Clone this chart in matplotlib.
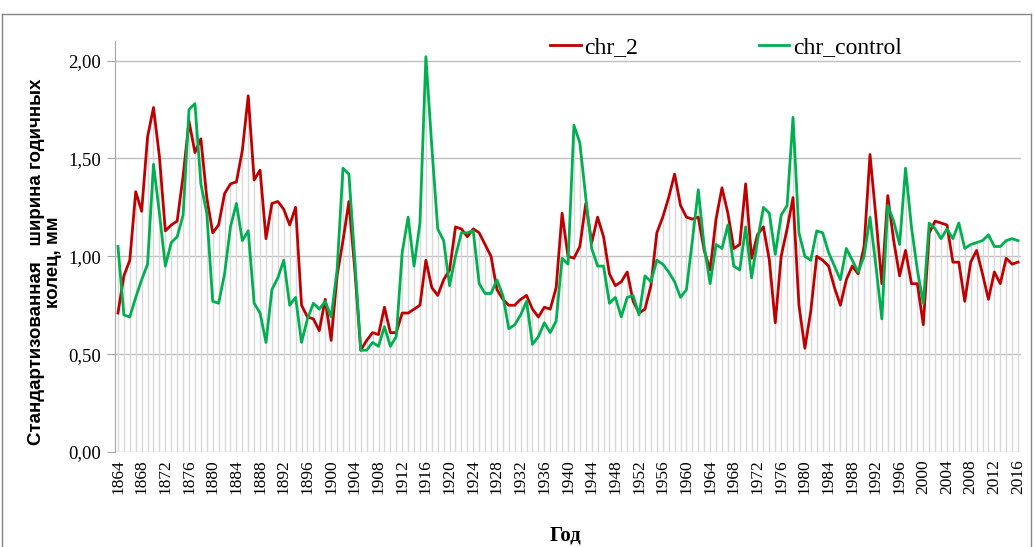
import matplotlib
matplotlib.use('Agg')
import matplotlib.pyplot as plt
import numpy as np
from matplotlib.lines import Line2D
from matplotlib.ticker import FuncFormatter

years = np.arange(1864, 2017)

chr_2 = [0.71, 0.90, 0.98, 1.33, 1.23, 1.61, 1.76, 1.51, 1.13, 1.16,
         1.18, 1.41, 1.69, 1.53, 1.60, 1.30, 1.12, 1.16, 1.32, 1.37,
         1.38, 1.54, 1.82, 1.39, 1.44, 1.09, 1.27, 1.28, 1.24, 1.16,
         1.25, 0.75, 0.69, 0.68, 0.62, 0.78, 0.57, 0.90, 1.08, 1.28,
         0.93, 0.52, 0.57, 0.61, 0.60, 0.74, 0.61, 0.61, 0.71, 0.71,
         0.73, 0.75, 0.98, 0.84, 0.80, 0.88, 0.93, 1.15, 1.14, 1.10,
         1.14, 1.12, 1.06, 1.00, 0.83, 0.78, 0.75, 0.75, 0.78, 0.80,
         0.73, 0.69, 0.74, 0.73, 0.84, 1.22, 1.00, 0.99, 1.05, 1.27,
         1.07, 1.20, 1.10, 0.91, 0.85, 0.87, 0.92, 0.77, 0.71, 0.73,
         0.85, 1.12, 1.20, 1.30, 1.42, 1.26, 1.20, 1.19, 1.20, 1.03,
         0.93, 1.19, 1.35, 1.22, 1.04, 1.06, 1.37, 0.99, 1.11, 1.15,
         0.98, 0.66, 1.00, 1.14, 1.30, 0.75, 0.53, 0.72, 1.00, 0.98,
         0.95, 0.84, 0.75, 0.88, 0.95, 0.91, 1.05, 1.52, 1.20, 0.86,
         1.31, 1.08, 0.90, 1.03, 0.86, 0.86, 0.65, 1.12, 1.18, 1.17,
         1.16, 0.97, 0.97, 0.77, 0.97, 1.03, 0.91, 0.78, 0.92, 0.86,
         0.99, 0.96, 0.97]

chr_control = [1.05, 0.70, 0.69, 0.79, 0.88, 0.96, 1.47, 1.22, 0.95, 1.07,
               1.10, 1.21, 1.75, 1.78, 1.37, 1.22, 0.77, 0.76, 0.91, 1.15,
               1.27, 1.08, 1.13, 0.76, 0.71, 0.56, 0.83, 0.89, 0.98, 0.75,
               0.79, 0.56, 0.68, 0.76, 0.73, 0.77, 0.69, 0.93, 1.45, 1.42,
               0.98, 0.52, 0.52, 0.56, 0.54, 0.64, 0.54, 0.59, 1.02, 1.20,
               0.95, 1.17, 2.02, 1.56, 1.14, 1.08, 0.85, 1.00, 1.12, 1.12,
               1.13, 0.86, 0.81, 0.81, 0.88, 0.80, 0.63, 0.65, 0.70, 0.77,
               0.55, 0.59, 0.66, 0.61, 0.67, 0.99, 0.96, 1.67, 1.58, 1.30,
               1.04, 0.95, 0.95, 0.76, 0.79, 0.69, 0.79, 0.80, 0.70, 0.90,
               0.87, 0.98, 0.96, 0.92, 0.87, 0.79, 0.83, 1.08, 1.34, 1.05,
               0.86, 1.06, 1.04, 1.16, 0.95, 0.93, 1.15, 0.89, 1.08, 1.25,
               1.22, 1.01, 1.21, 1.26, 1.71, 1.12, 1.00, 0.98, 1.13, 1.12,
               1.02, 0.95, 0.88, 1.04, 0.98, 0.92, 1.00, 1.20, 0.95, 0.68,
               1.26, 1.18, 1.06, 1.45, 1.15, 0.93, 0.76, 1.17, 1.14, 1.09,
               1.14, 1.09, 1.17, 1.04, 1.06, 1.07, 1.08, 1.11, 1.05, 1.05,
               1.08, 1.09, 1.08]

y_ticks = [0.0, 0.5, 1.0, 1.5, 2.0]
x_ticks = years[::4]

serif = 'Liberation Serif'
sans = 'Liberation Sans'

fig = plt.figure(figsize=(10.35, 5.47), dpi=100)
ax = fig.add_axes([115 / 1035, 1 - 452 / 547, 906 / 1035, 411 / 547])

# drop lines from the highest point to the axis
top = np.maximum(chr_2, chr_control)
ax.vlines(years, 0, top, color='#d9d9d9', lw=1, zorder=1)

for v in y_ticks:
    ax.axhline(v, color='#bfbfbf', lw=1, zorder=0)

ax.plot(years, chr_2, color='#c00000', lw=2.0, label='chr_2', zorder=3)
ax.plot(years, chr_control, color='#00b050', lw=2.0, label='chr_control', zorder=3)

ax.set_xlim(1863.5, 2016.5)
ax.set_ylim(0, 2.1)
ax.set_yticks(y_ticks)
ax.yaxis.set_major_formatter(FuncFormatter(lambda v, p: ('%.2f' % v).replace('.', ',')))
ax.set_xticks(x_ticks)
ax.set_xticklabels([str(y) for y in x_ticks], rotation=90, fontfamily=serif, fontsize=12.5)
for lab in ax.get_yticklabels():
    lab.set_fontfamily(serif)
    lab.set_fontsize(13.5)

ax.tick_params(axis='y', direction='out', length=6, color='#a6a6a6', pad=4)
ax.tick_params(axis='x', length=0, pad=5)
for s in ['top', 'right', 'bottom']:
    ax.spines[s].set_visible(False)
ax.spines['left'].set_color('#a6a6a6')

fig.text(45 / 1035, 1 - 262 / 547,
         'Стандартизованная   ширина годичных\nколец, мм',
         rotation=90, ha='center', va='center', multialignment='center',
         fontfamily=sans, fontweight='bold', fontsize=13.5, linespacing=1.05)
fig.text(565 / 1035, 1 - 535 / 547, 'Год', ha='center', va='center',
         fontfamily=serif, fontweight='bold', fontsize=15)

fig.legend(loc='center left', bbox_to_anchor=(550 / 1035, 1 - 47 / 547), ncol=2,
           frameon=False, prop={'family': serif, 'size': 17}, handlelength=1.3,
           handletextpad=0.15, columnspacing=5.1, borderpad=0, borderaxespad=0)

# chart border
bc = '#868686'
fig.add_artist(Line2D([2 / 1035, 2 / 1035], [0, 1 - 14 / 547], color=bc, lw=1, transform=fig.transFigure))
fig.add_artist(Line2D([2 / 1035, 1031 / 1035], [1 - 14 / 547, 1 - 14 / 547], color=bc, lw=1, transform=fig.transFigure))
fig.add_artist(Line2D([1031 / 1035, 1031 / 1035], [0, 1 - 14 / 547], color=bc, lw=1, transform=fig.transFigure))

fig.savefig('out.png', dpi=100)
